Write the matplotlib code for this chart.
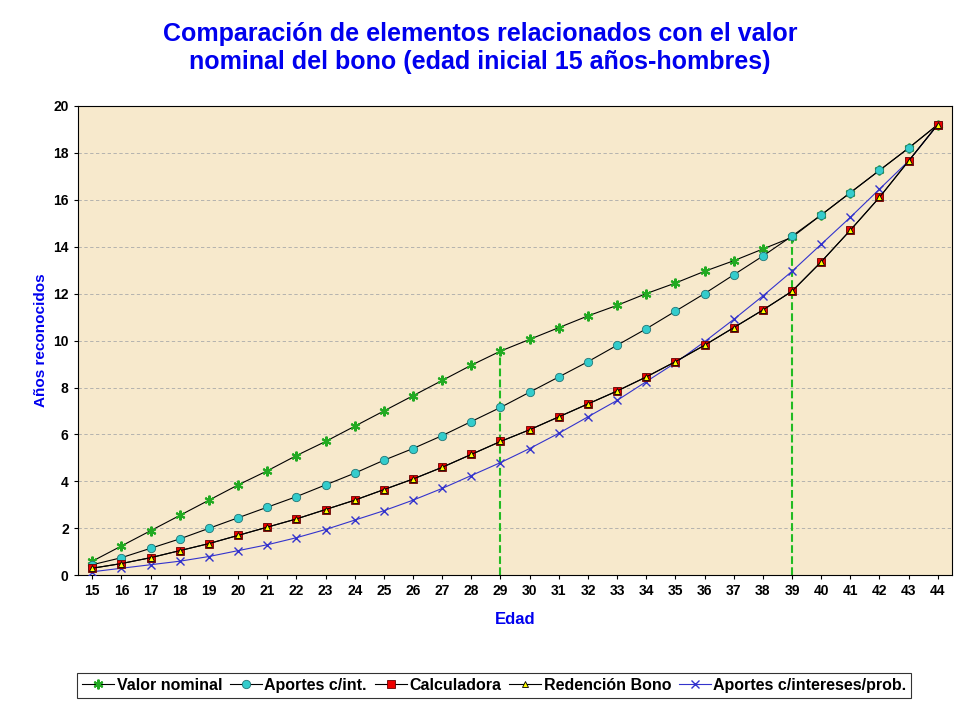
import matplotlib.pyplot as plt
import numpy as np

plt.rcParams["font.family"] = "Liberation Sans"

edades = list(range(15, 45))

valor_nominal = [0.6, 1.25, 1.9, 2.55, 3.2, 3.85, 4.45, 5.1, 5.7, 6.35, 7.0, 7.65, 8.3, 8.95, 9.55,
                 10.05, 10.55, 11.05, 11.5, 12.0, 12.45, 12.95, 13.4, 13.9, 14.4, 15.35, 16.3, 17.25, 18.2, 19.2]
aportes_int = [0.45, 0.75, 1.15, 1.55, 2.0, 2.45, 2.9, 3.35, 3.85, 4.35, 4.9, 5.4, 5.95, 6.55, 7.15,
               7.8, 8.45, 9.1, 9.8, 10.5, 11.25, 12.0, 12.8, 13.6, 14.45, 15.35, 16.3, 17.25, 18.2, 19.2]
calculadora = [0.3, 0.5, 0.75, 1.05, 1.35, 1.7, 2.05, 2.4, 2.8, 3.2, 3.65, 4.1, 4.6, 5.15, 5.7,
               6.2, 6.75, 7.3, 7.85, 8.45, 9.1, 9.8, 10.55, 11.3, 12.1, 13.35, 14.7, 16.1, 17.65, 19.2]
redencion = list(calculadora)
aportes_prob = [0.15, 0.3, 0.45, 0.6, 0.8, 1.05, 1.3, 1.6, 1.95, 2.35, 2.75, 3.2, 3.7, 4.25, 4.8,
                5.4, 6.05, 6.75, 7.45, 8.25, 9.05, 9.95, 10.9, 11.9, 12.95, 14.1, 15.25, 16.45, 17.65, 19.2]

# vertical markers (edad, hasta valor)
marcas = [(29, 9.55), (39, 14.4)]

BLUE = "#0000EE"

fig = plt.figure(figsize=(9.6, 7.2), dpi=100)
ax = fig.add_axes([0.081, 0.201, 0.911, 0.652])
ax.set_facecolor("#F7E9CC")

for x, top in marcas:
    ax.plot([x, x], [0, top], color="#22BB22", linestyle="--", linewidth=1.5, zorder=1)

ax.plot(edades, valor_nominal, color="black", lw=0.8, marker=(6, 2, 0), ms=7,
        mec="#22AA22", mew=1.5, label="Valor nominal", zorder=3)
ax.plot(edades, aportes_int, color="black", lw=0.8, marker="o", ms=6,
        mfc="#33CCCC", mec="#227777", mew=0.6, label="Aportes c/int.", zorder=3)
ax.plot(edades, calculadora, color="black", lw=0.8, marker="s", ms=6,
        mfc="#EE0000", mec="#660000", mew=0.6, label="Calculadora", zorder=4)
ax.plot(edades, redencion, color="black", lw=0.8, marker="^", ms=5,
        mfc="#FFFF00", mec="black", mew=0.6, label="Redención Bono", zorder=5)
ax.plot(edades, aportes_prob, color="#3333CC", lw=0.8, marker="x", ms=6,
        mec="#3333CC", mew=1.0, label="Aportes c/intereses/prob.", zorder=3)

ax.set_xlim(14.5, 44.5)
ax.set_ylim(0, 20)
ax.set_xticks(edades)
ax.set_yticks(range(0, 21, 2))
ax.tick_params(labelsize=10, length=3)
for lab in ax.get_xticklabels() + ax.get_yticklabels():
    lab.set_fontweight("bold")
ax.grid(axis="y", color="#AAAAAA", linestyle=(0, (4, 3)), linewidth=0.6)
ax.set_axisbelow(True)

ax.set_xlabel("Edad", color=BLUE, fontsize=12, fontweight="bold", labelpad=10)
ax.set_ylabel("Años reconocidos", color=BLUE, fontsize=11, fontweight="bold")

fig.text(0.5, 0.97, "Comparación de elementos relacionados con el valor\nnominal del bono (edad inicial 15 años-hombres)",
         ha="center", va="top", color=BLUE, fontsize=18, fontweight="bold", linespacing=1.25)

leg = fig.legend(loc="lower center", bbox_to_anchor=(0.515, 0.02), ncol=5,
                 frameon=True, fancybox=False, edgecolor="black", handlelength=2.0,
                 columnspacing=0.5, handletextpad=0.15, borderpad=0.3,
                 prop={"weight": "bold", "size": 11.5})
leg.get_frame().set_linewidth(0.8)

fig.savefig("out.png", dpi=100, facecolor="white")
